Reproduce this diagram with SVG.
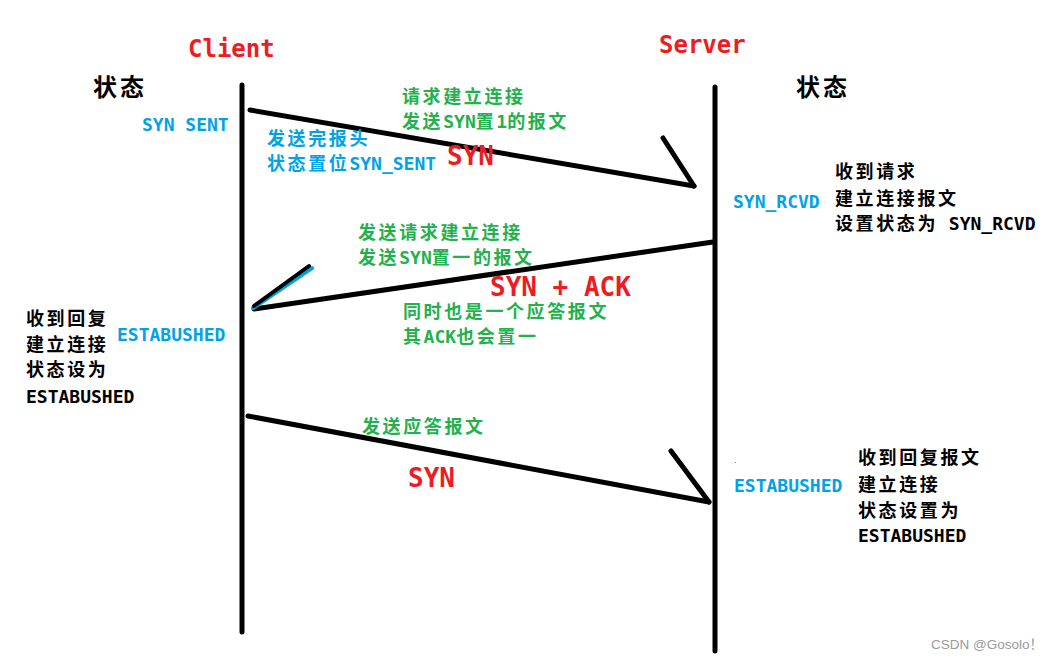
<svg xmlns="http://www.w3.org/2000/svg" width="1056" height="659" viewBox="0 0 1056 659">
<style>
.t{font-family:"DejaVu Sans Mono","Noto Sans CJK SC",monospace;font-weight:700;font-size:18px}
.cj{letter-spacing:2.6px}
.blk{fill:#000}
.grn{fill:#22b14c}
.blu{fill:#00a2e8}
.red26{font-family:"DejaVu Sans Mono","Noto Sans CJK SC",monospace;font-weight:700;font-size:26px;fill:#ed1c24}
.ttl{font-family:"DejaVu Sans Mono",monospace;font-weight:700;font-size:24px;fill:#ed1c24}
.hd{font-family:"Noto Sans CJK SC",sans-serif;font-weight:700;font-size:24px;letter-spacing:3px;fill:#000}
.ln{stroke:#000;stroke-width:5;stroke-linecap:round;fill:none}
.wm{font-family:"Liberation Sans","Noto Sans CJK SC",sans-serif;font-size:13.5px;fill:#9a9a9a}
</style>
<rect width="1056" height="659" fill="#fff"/>

<g id="client">
  <line class="ln" x1="242" y1="85" x2="242" y2="632"/>
  <text class="ttl" x="188" y="57">Client</text>
  <text class="hd" x="93" y="96">状态</text>
</g>

<g id="server">
  <line class="ln" x1="715" y1="87" x2="715" y2="651"/>
  <text class="ttl" x="659" y="53">Server</text>
  <text class="hd" x="796" y="96">状态</text>
</g>

<g id="connectors">
  <g id="syn1">
    <line class="ln" x1="250" y1="110" x2="694" y2="186"/>
    <line class="ln" x1="663" y1="138" x2="694" y2="186"/>
  </g>
  <g id="synack">
    <line class="ln" x1="713" y1="242" x2="254" y2="309"/>
    <line x1="253" y1="308" x2="312" y2="268" stroke="#00a2e8" stroke-width="4" stroke-linecap="round"/>
    <line x1="254" y1="306" x2="309" y2="266" stroke="#000" stroke-width="4" stroke-linecap="round"/>
  </g>
  <g id="ack">
    <line class="ln" x1="248" y1="416" x2="709" y2="502"/>
    <line class="ln" x1="671" y1="451" x2="709" y2="502"/>
  </g>
</g>

<g id="client-state-1">
  <text class="t blu" x="142" y="131">SYN SENT</text>
  <text class="t blu" x="267" y="145"><tspan class="cj">发送完报头</tspan></text>
  <text class="t blu" x="267" y="170"><tspan class="cj">状态置位</tspan>SYN_SENT</text>
</g>

<g id="msg-syn">
  <text class="t grn" x="402" y="103"><tspan class="cj">请求建立连接</tspan></text>
  <text class="t grn" x="402" y="128"><tspan class="cj">发送</tspan>SYN<tspan class="cj">置</tspan>1<tspan class="cj">的报文</tspan></text>
  <text class="red26" x="447" y="165">SYN</text>
</g>

<g id="server-state-1">
  <text class="t blu" x="733" y="208">SYN_RCVD</text>
  <text class="t blk" x="835" y="178"><tspan class="cj">收到请求</tspan></text>
  <text class="t blk" x="835" y="205"><tspan class="cj">建立连接报文</tspan></text>
  <text class="t blk" x="835" y="230"><tspan class="cj">设置状态为</tspan> SYN_RCVD</text>
</g>

<g id="msg-synack">
  <text class="t grn" x="358" y="239"><tspan class="cj">发送请求建立连接</tspan></text>
  <text class="t grn" x="358" y="264"><tspan class="cj">发送</tspan>SYN<tspan class="cj">置一的报文</tspan></text>
  <text class="red26" x="490" y="296">SYN + ACK</text>
  <text class="t grn" x="403" y="318"><tspan class="cj">同时也是一个应答报文</tspan></text>
  <text class="t grn" x="403" y="343"><tspan class="cj">其</tspan>ACK<tspan class="cj">也会置一</tspan></text>
</g>

<g id="client-state-2">
  <text class="t blu" x="117" y="341">ESTABUSHED</text>
  <text class="t blk" x="26" y="325"><tspan class="cj">收到回复</tspan></text>
  <text class="t blk" x="26" y="351"><tspan class="cj">建立连接</tspan></text>
  <text class="t blk" x="26" y="376"><tspan class="cj">状态设为</tspan></text>
  <text class="t blk" x="26" y="403">ESTABUSHED</text>
</g>

<g id="msg-ack">
  <text class="t grn" x="362" y="433"><tspan class="cj">发送应答报文</tspan></text>
  <text class="red26" x="408" y="487">SYN</text>
</g>

<g id="server-state-2">
  <rect x="735" y="462" width="1" height="1" fill="#00a2e8"/>
  <text class="t blu" x="734" y="492">ESTABUSHED</text>
  <text class="t blk" x="858" y="464"><tspan class="cj">收到回复报文</tspan></text>
  <text class="t blk" x="858" y="491"><tspan class="cj">建立连接</tspan></text>
  <text class="t blk" x="858" y="517"><tspan class="cj">状态设置为</tspan></text>
  <text class="t blk" x="858" y="542">ESTABUSHED</text>
</g>

<text class="wm" x="931" y="649">CSDN @Gosolo！</text>
</svg>
